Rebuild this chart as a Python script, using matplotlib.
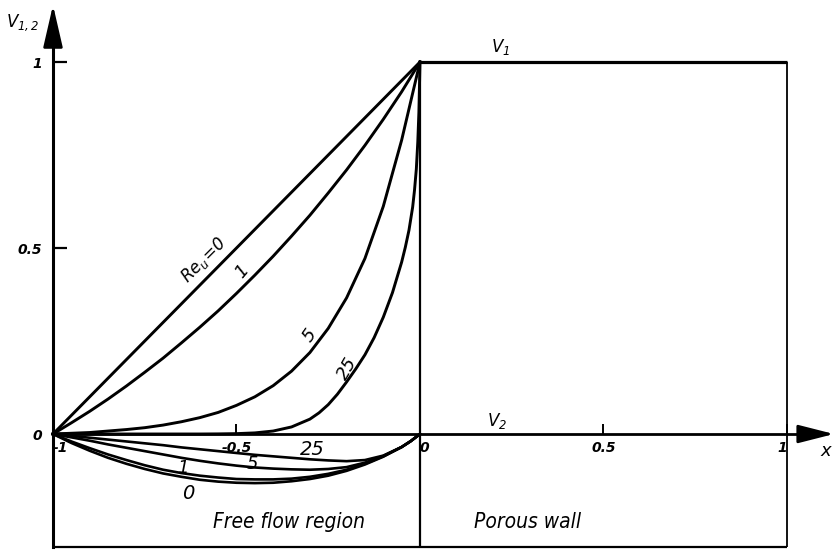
import matplotlib
matplotlib.use("Agg")
import matplotlib.pyplot as plt

plt.rcParams['font.family'] = ['DejaVu Sans']
plt.rcParams['mathtext.fontset'] = 'custom'
plt.rcParams['mathtext.rm'] = 'DejaVu Sans:italic'
plt.rcParams['mathtext.it'] = 'DejaVu Sans:italic'

# V1 in the free flow region
x_v1 = [-1.0, -0.95, -0.9, -0.85, -0.8, -0.75, -0.7, -0.65, -0.6, -0.55, -0.5,
        -0.45, -0.4, -0.35, -0.3, -0.25, -0.2, -0.15, -0.1, -0.05, 0.0]
v1_re0 = [0.0, 0.05, 0.1, 0.15, 0.2, 0.25, 0.3, 0.35, 0.4, 0.45, 0.5,
          0.55, 0.6, 0.65, 0.7, 0.75, 0.8, 0.85, 0.9, 0.95, 1.0]
v1_re1 = [0.0, 0.030, 0.061, 0.094, 0.129, 0.166, 0.204, 0.245, 0.287, 0.331, 0.378,
          0.427, 0.478, 0.532, 0.588, 0.648, 0.710, 0.776, 0.846, 0.920, 1.0]
v1_re5 = [0.0, 0.002, 0.004, 0.008, 0.012, 0.017, 0.024, 0.033, 0.044, 0.058, 0.077,
          0.100, 0.130, 0.169, 0.219, 0.284, 0.366, 0.472, 0.612, 0.790, 1.0]
x_v1_25 = [-1.0, -0.6, -0.55, -0.5, -0.45, -0.4, -0.35, -0.3, -0.275, -0.25, -0.225,
           -0.2, -0.175, -0.15, -0.125, -0.1, -0.075, -0.05, -0.04, -0.03, -0.02,
           -0.015, -0.01, -0.006, -0.003, 0.0]
v1_re25 = [0.0, 0.0, 0.0003, 0.001, 0.003, 0.008, 0.019, 0.040, 0.057, 0.079, 0.107,
           0.140, 0.175, 0.213, 0.259, 0.314, 0.380, 0.462, 0.502, 0.548, 0.610,
           0.655, 0.712, 0.785, 0.865, 1.0]

# V2 in the free flow region
x_v2 = [-1.0, -0.95, -0.9, -0.85, -0.8, -0.75, -0.7, -0.65, -0.6, -0.55, -0.5,
        -0.45, -0.4, -0.35, -0.3, -0.25, -0.2, -0.15, -0.1, -0.05, -0.025, 0.0]
v2_re0 = [0.0, -0.024, -0.045, -0.064, -0.080, -0.094, -0.106, -0.115, -0.123, -0.128, -0.131,
          -0.132, -0.131, -0.127, -0.121, -0.112, -0.099, -0.082, -0.061, -0.035, -0.019, 0.0]
v2_re1 = [0.0, -0.020, -0.038, -0.055, -0.070, -0.084, -0.096, -0.105, -0.112, -0.117, -0.121,
          -0.122, -0.122, -0.120, -0.115, -0.107, -0.096, -0.080, -0.060, -0.035, -0.019, 0.0]
v2_re5 = [0.0, -0.009, -0.018, -0.028, -0.037, -0.046, -0.055, -0.064, -0.072, -0.079, -0.085,
          -0.090, -0.093, -0.095, -0.096, -0.094, -0.089, -0.077, -0.059, -0.035, -0.019, 0.0]
v2_re25 = [0.0, -0.005, -0.010, -0.015, -0.020, -0.025, -0.030, -0.036, -0.041, -0.046, -0.051,
           -0.056, -0.060, -0.064, -0.068, -0.071, -0.073, -0.070, -0.058, -0.035, -0.019, 0.0]

# porous wall
x_wall = [0.0, 1.0]
v1_wall = [1.0, 1.0]

xtick_vals = [-1, -0.5, 0, 0.5, 1]
xtick_labels = ['-1', '-0.5', '0', '0.5', '1']
ytick_vals = [0, 0.5, 1]
ytick_labels = ['0', '0.5', '1']

y_bot = -0.305

fig = plt.figure(figsize=(8.35, 5.5), dpi=100)
ax = fig.add_axes([0, 0, 1, 1])
ax.set_xlim(-1.1444, 1.1308)
ax.set_ylim(-0.3118, 1.1667)

lw = 2.1
for v in (v1_re0, v1_re1, v1_re5):
    ax.plot(x_v1, v, color='black', lw=lw)
ax.plot(x_v1_25, v1_re25, color='black', lw=lw)
for v in (v2_re0, v2_re1, v2_re5, v2_re25):
    ax.plot(x_v2, v, color='black', lw=1.9)
ax.plot(x_wall, v1_wall, color='black', lw=2.3, solid_capstyle='butt')

# frame around the two regions
ax.vlines(0, y_bot, 1, color='black', lw=1.6)
ax.vlines(1, y_bot, 1, color='black', lw=1.3)
ax.hlines(y_bot, -1, 1, color='black', lw=1.6)

# axes through the origin with arrows
for s in ('top', 'right'):
    ax.spines[s].set_visible(False)
ax.spines['left'].set_position(('data', -1))
ax.spines['bottom'].set_position(('data', 0))
ax.spines['left'].set_bounds(y_bot, 1.10)
ax.spines['bottom'].set_bounds(-1, 1.08)
ax.spines['left'].set_linewidth(2.2)
ax.spines['bottom'].set_linewidth(2.0)
ax.annotate('', xy=(-1, 1.153), xytext=(-1, 1.08),
            arrowprops=dict(arrowstyle='-|>,head_length=1.3,head_width=0.3',
                            color='black', lw=2, mutation_scale=20, shrinkA=0, shrinkB=0))
ax.annotate('', xy=(1.128, 0), xytext=(1.06, 0),
            arrowprops=dict(arrowstyle='-|>,head_length=1.1,head_width=0.28',
                            color='black', lw=2, mutation_scale=20, shrinkA=0, shrinkB=0))

ax.set_xticks(xtick_vals)
ax.set_xticklabels(xtick_labels)
ax.set_yticks(ytick_vals)
ax.set_yticklabels(ytick_labels)
ax.tick_params(axis='x', direction='in', length=7, width=1.4, pad=5)
ax.tick_params(axis='y', direction='in', length=10, width=1.6, pad=8)
for t in ax.get_xticklabels() + ax.get_yticklabels():
    t.set_fontstyle('italic')
    t.set_fontweight('bold')
    t.set_fontsize(10)
for t, ha in zip(ax.get_xticklabels(), ['left', 'center', 'left', 'center', 'right']):
    t.set_horizontalalignment(ha)

# labels
ax.text(-1.082, 1.105, r'$V_{1,2}$', fontsize=12, ha='center', va='center')
ax.text(1.106, -0.046, 'x', fontsize=13, style='italic', ha='center', va='center')
ax.text(0.22, 1.04, r'$V_1$', fontsize=12, ha='center', va='center')
ax.text(0.21, 0.035, r'$V_2$', fontsize=12, ha='center', va='center')

ax.text(-0.589, 0.468, r'$Re_u\!=\!0$', fontsize=12, rotation=45, ha='center', va='center')
ax.text(-0.485, 0.438, '1', fontsize=13, style='italic', rotation=50, ha='center', va='center')
ax.text(-0.30, 0.266, '5', fontsize=13, style='italic', rotation=55, ha='center', va='center')
ax.text(-0.199, 0.177, '25', fontsize=13, style='italic', rotation=60, ha='center', va='center')

ax.text(-0.294, -0.042, '25', fontsize=14, style='italic', ha='center', va='center')
ax.text(-0.458, -0.081, '5', fontsize=13, style='italic', ha='center', va='center')
ax.text(-0.647, -0.091, '1', fontsize=13, style='italic', ha='center', va='center')
ax.text(-0.631, -0.159, '0', fontsize=14, style='italic', ha='center', va='center')

ax.text(-0.358, -0.237, 'Free flow region', fontsize=15, style='italic',
        stretch='condensed', ha='center', va='center')
ax.text(0.292, -0.237, 'Porous wall', fontsize=15, style='italic',
        stretch='condensed', ha='center', va='center')

fig.savefig('out.png', dpi=100)
